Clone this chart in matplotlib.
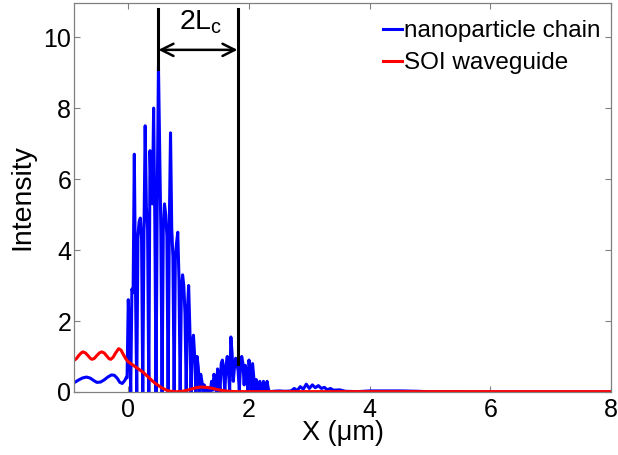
import matplotlib
matplotlib.use("Agg")
import matplotlib.pyplot as plt
import numpy as np

plt.rcParams['font.family'] = ['Liberation Sans', 'DejaVu Sans']
plt.rcParams['mathtext.fontset'] = 'custom'
plt.rcParams['mathtext.rm'] = 'Liberation Sans'
plt.rcParams['mathtext.it'] = 'Liberation Sans:italic'

# nanoparticle chain intensity
chain_x = [-0.9, -0.85, -0.8, -0.75, -0.69, -0.63, -0.57, -0.52, -0.46, -0.40, -0.34,
           -0.28, -0.23, -0.18, -0.14, -0.10, -0.06, -0.03, -0.02,
           0.00, 0.02, 0.04, 0.06, 0.08, 0.10, 0.12, 0.14, 0.16, 0.18, 0.20, 0.22, 0.24,
           0.26, 0.28, 0.30, 0.32, 0.34, 0.36, 0.38, 0.40, 0.42, 0.44, 0.46, 0.48, 0.50,
           0.52, 0.54, 0.56, 0.58, 0.60, 0.62, 0.64, 0.66, 0.68, 0.70, 0.72, 0.74, 0.76,
           0.78, 0.80, 0.82, 0.84, 0.86, 0.88, 0.90, 0.92, 0.94, 0.96, 0.98, 1.00, 1.02,
           1.04, 1.06, 1.08, 1.10, 1.12, 1.14, 1.16, 1.18, 1.20, 1.22, 1.24, 1.26, 1.28,
           1.30, 1.32, 1.34, 1.36, 1.38, 1.40, 1.42, 1.44, 1.46, 1.48, 1.50, 1.52, 1.54,
           1.56, 1.58, 1.60, 1.62, 1.64, 1.66, 1.68, 1.70, 1.72, 1.74, 1.76, 1.78, 1.80,
           1.82, 1.84, 1.86, 1.88, 1.90, 1.92, 1.94, 1.96, 1.98, 2.00, 2.02, 2.04, 2.06,
           2.08, 2.10, 2.12, 2.14, 2.16, 2.18, 2.20, 2.22, 2.24, 2.26, 2.28, 2.30, 2.32,
           2.34, 2.40, 2.50, 2.60, 2.70, 2.75, 2.80, 2.85, 2.90, 2.95, 3.00, 3.05, 3.10,
           3.15, 3.20, 3.25, 3.30, 3.35, 3.40, 3.50, 3.60, 3.80, 4.00, 4.20, 4.50, 4.80,
           5.00, 6.00, 8.00]
chain_y = [0.26, 0.31, 0.36, 0.40, 0.42, 0.39, 0.32, 0.27, 0.28, 0.34, 0.42,
           0.48, 0.47, 0.38, 0.27, 0.24, 0.32, 0.42, 0.40,
           2.60, 1.70, 0.00, 2.90, 2.80, 6.70, 2.90, 0.00, 4.40, 4.80, 4.90, 4.30, 0.00,
           4.50, 7.50, 5.20, 4.60, 0.00, 6.80, 5.50, 5.30, 8.00, 4.80, 0.00, 5.40, 9.20,
           6.90, 4.50, 0.00, 4.60, 5.30, 5.00, 4.40, 0.00, 4.70, 7.30, 4.60, 3.80, 0.00,
           3.80, 4.20, 4.50, 3.20, 0.00, 2.90, 3.30, 3.00, 2.20, 0.00, 2.30, 3.00, 1.80,
           0.00, 1.40, 1.60, 1.00, 0.00, 1.00, 0.70, 0.00, 0.50, 0.30, 0.00, 0.20, 0.00,
           0.10, 0.00, 0.12, 0.00, 0.30, 0.05, 0.50, 0.35, 0.00, 0.65, 0.45, 0.00, 0.80,
           0.90, 0.60, 0.00, 0.75, 1.00, 0.60, 0.05, 1.55, 1.10, 0.30, 0.70, 0.95, 0.80,
           0.60, 0.05, 0.75, 1.00, 0.80, 0.20, 0.75, 0.50, 0.05, 0.90, 0.60, 0.00, 0.80,
           0.40, 0.00, 0.35, 0.20, 0.00, 0.30, 0.15, 0.00, 0.30, 0.10, 0.00, 0.30, 0.10,
           0.00, 0.02, 0.03, 0.02, 0.03, 0.10, 0.04, 0.15, 0.08, 0.22, 0.10, 0.20, 0.12,
           0.18, 0.10, 0.13, 0.06, 0.10, 0.05, 0.06, 0.02, 0.01, 0.03, 0.03, 0.03, 0.02,
           0.005, 0.0, 0.0]

# SOI waveguide intensity
soi_x = [-0.9, -0.86, -0.82, -0.78, -0.75, -0.71, -0.67, -0.63, -0.60, -0.56, -0.52,
         -0.48, -0.44, -0.40, -0.36, -0.32, -0.29, -0.25, -0.21, -0.16, -0.12, -0.08,
         -0.04, 0.00, 0.05, 0.10, 0.15, 0.20, 0.25, 0.30, 0.35, 0.40, 0.45, 0.50, 0.55,
         0.60, 0.65, 0.70, 0.80, 0.90, 1.00, 1.10, 1.20, 1.30, 1.40, 1.50, 1.60, 1.70,
         1.80, 2.0, 3.0, 4.0, 5.0, 6.0, 7.0, 8.0]
soi_y = [0.89, 0.94, 1.03, 1.10, 1.13, 1.10, 1.03, 0.95, 0.92, 0.95, 1.03,
         1.10, 1.13, 1.10, 1.02, 0.94, 0.92, 0.98, 1.10, 1.22, 1.18, 1.05,
         0.93, 0.85, 0.79, 0.73, 0.67, 0.61, 0.55, 0.47, 0.39, 0.31, 0.24, 0.18, 0.12,
         0.08, 0.04, 0.02, 0.005, 0.02, 0.06, 0.11, 0.14, 0.13, 0.10, 0.06, 0.03, 0.015,
         0.01, 0.01, 0.01, 0.01, 0.01, 0.01, 0.01, 0.01]

# annotation positions (2Lc)
lc_left = 0.50
lc_right = 1.81
lc_top = 10.8
lc_left_bottom = 9.1
lc_right_bottom = 0.8
arrow_y = 9.64

fig = plt.figure(figsize=(6.18, 4.55), dpi=100)
ax = fig.add_axes([0.1197, 0.1385, 0.8690, 0.8549])

ax.plot(chain_x, chain_y, color='#0000ff', lw=2.2, label='nanoparticle chain')
ax.plot(soi_x, soi_y, color='#ff0000', lw=2.2, label='SOI waveguide')

ax.plot([lc_left, lc_left], [lc_left_bottom, lc_top], color='black', lw=2.2)
ax.plot([lc_right, lc_right], [lc_right_bottom, lc_top], color='black', lw=2.2)
ax.annotate('', xy=(lc_left, arrow_y), xytext=(lc_right, arrow_y),
            arrowprops=dict(arrowstyle='<->', color='black', lw=1.8,
                            mutation_scale=22, shrinkA=0, shrinkB=0))
ax.text((lc_left + lc_right) / 2 + 0.04, 10.42, r'2L$_{\mathrm{c}}$', fontsize=20.5,
        ha='center', va='center')

ax.set_xlim(-0.9, 8)
ax.set_ylim(0, 10.96)
ax.set_xticks([0, 2, 4, 6, 8])
ax.set_yticks([0, 2, 4, 6, 8, 10])
ax.tick_params(direction='in', top=True, right=True, labelsize=18, length=4,
               color='#808080', pad=4)
ax.tick_params(axis='y', pad=2)
for s in ax.spines.values():
    s.set_color('#808080')
    s.set_linewidth(0.9)

ax.set_xlabel('X (μm)', fontsize=19.5, labelpad=-1)
ax.set_ylabel('Intensity', fontsize=20.5, labelpad=6)

leg = ax.legend(loc='upper right', frameon=False, fontsize=17.5, handlelength=0.75,
                handletextpad=0.1, borderaxespad=0.3, labelspacing=0.42,
                bbox_to_anchor=(1.012, 1.0))

fig.savefig('out.png', dpi=100)
